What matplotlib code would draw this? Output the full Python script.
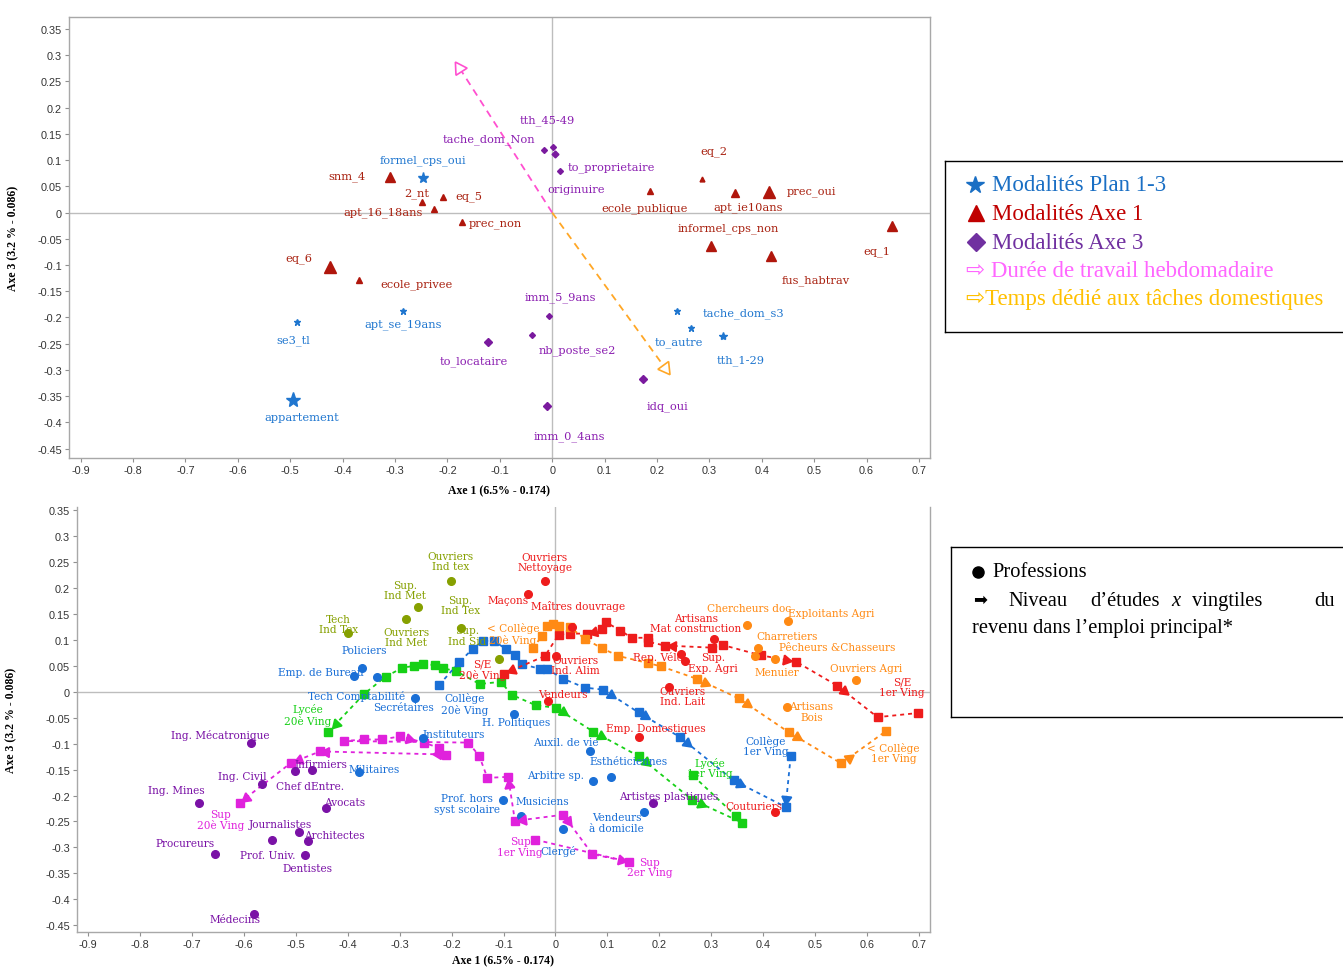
import numpy as np
import matplotlib
matplotlib.use("Agg")
import matplotlib.pyplot as plt
from matplotlib.ticker import FixedLocator, FuncFormatter

# ================= TOP PLANE : modalities =================
plan13_names = ["formel_cps_oui", "se3_tl", "apt_se_19ans", "appartement",
                "tache_dom_s3", "to_autre", "tth_1-29"]
plan13_x = [-0.246, -0.487, -0.285, -0.494, 0.238, 0.265, 0.326]
plan13_y = [0.066, -0.208, -0.187, -0.357, -0.187, -0.221, -0.235]
plan13_lx = [-0.246, -0.494, -0.284, -0.477, 0.365, 0.242, 0.359]
plan13_ly = [0.101, -0.243, -0.211, -0.390, -0.190, -0.247, -0.281]

axe1_names = ["snm_4", "2_nt", "eq_5", "apt_16_18ans", "prec_non", "eq_6",
              "ecole_privee", "eq_2", "ecole_publique", "apt_ie10ans",
              "prec_oui", "informel_cps_non", "eq_1", "fus_habtrav"]
axe1_x = [-0.309, -0.249, -0.209, -0.226, -0.172, -0.424, -0.369, 0.286,
          0.187, 0.349, 0.413, 0.304, 0.649, 0.417]
axe1_y = [0.068, 0.020, 0.030, 0.006, -0.017, -0.104, -0.128, 0.064,
          0.042, 0.038, 0.039, -0.064, -0.025, -0.083]
axe1_lx = [-0.391, -0.258, -0.158, -0.323, -0.108, -0.483, -0.258, 0.309,
           0.177, 0.374, 0.494, 0.336, 0.620, 0.502]
axe1_ly = [0.070, 0.038, 0.032, 0.001, -0.020, -0.085, -0.136, 0.118,
           0.009, 0.011, 0.041, -0.029, -0.073, -0.127]

axe3_names = ["tth_45-49", "tache_dom_Non", "to_proprietaire", "originuire",
              "imm_5_9ans", "nb_poste_se2", "to_locataire", "idq_oui",
              "imm_0_4ans"]
axe3_x = [0.001, -0.015, 0.014, 0.005, -0.006, -0.039, -0.122, 0.174, -0.009]
axe3_y = [0.125, 0.120, 0.080, 0.112, -0.198, -0.233, -0.246, -0.317, -0.369]
axe3_lx = [-0.010, -0.120, 0.113, 0.046, 0.015, 0.048, -0.149, 0.221, 0.032]
axe3_ly = [0.177, 0.141, 0.087, 0.045, -0.161, -0.262, -0.283, -0.369, -0.426]

# supplementary directions drawn from the origin
duree_end = (-0.177, 0.276)
domest_end = (0.216, -0.297)

# ================= BOTTOM PLANE : professions =================
prof_olive = ["Ouvriers\nInd tex", "Sup.\nInd Met", "Ouvriers\nInd Met",
              "Tech\nInd Tex", "Sup.\nInd Tex", "Sup.\nInd Sid"]
prof_olive_x = [-0.202, -0.265, -0.287, -0.399, -0.182, -0.108]
prof_olive_y = [0.213, 0.164, 0.140, 0.113, 0.122, 0.063]
prof_olive_lx = [-0.202, -0.289, -0.287, -0.418, -0.183, -0.170]
prof_olive_ly = [0.252, 0.196, 0.106, 0.131, 0.167, 0.108]

prof_red = ["Ouvriers\nNettoyage", "Maçons", "Maîtres douvrage",
            "Ouvriers\nInd. Alim", "Vendeurs", "Artisans\nMat construction",
            "Rep. Vélo", "Sup.\nExp. Agri", "Ouvriers\nInd. Lait",
            "Emp. Domestiques", "Couturiers"]
prof_red_x = [-0.021, -0.052, 0.031, 0.001, -0.015, 0.306, 0.241, 0.250,
              0.218, 0.161, 0.423]
prof_red_y = [0.213, 0.188, 0.124, 0.069, -0.017, 0.101, 0.073, 0.060,
              0.009, -0.088, -0.231]
prof_red_lx = [-0.021, -0.092, 0.044, 0.039, 0.015, 0.270, 0.198, 0.304,
               0.245, 0.193, 0.382]
prof_red_ly = [0.250, 0.177, 0.167, 0.052, -0.004, 0.133, 0.067, 0.056,
               -0.008, -0.069, -0.221]

prof_orange = ["Chercheurs doc", "Exploitants Agri", "Charretiers",
               "Pêcheurs &Chasseurs", "Menuier", "Ouvriers Agri",
               "Artisans\nBois"]
prof_orange_x = [0.369, 0.447, 0.389, 0.423, 0.385, 0.579, 0.446]
prof_orange_y = [0.129, 0.136, 0.084, 0.063, 0.069, 0.022, -0.029]
prof_orange_lx = [0.372, 0.530, 0.445, 0.543, 0.426, 0.599, 0.493]
prof_orange_ly = [0.162, 0.152, 0.108, 0.087, 0.038, 0.046, -0.038]

prof_blue = ["Policiers", "Emp. de Bureau", "Tech Comptabilité", "Secrétaires",
             "H. Politiques", "Instituteurs", "Militaires", "Auxil. de vie",
             "Esthéticiennes", "Arbitre sp.", "Prof. hors\nsyst scolaire",
             "Musiciens", "Vendeurs\nà domicile", "Clergé"]
prof_blue_x = [-0.373, -0.387, -0.344, -0.270, -0.079, -0.254, -0.378, 0.067,
               0.107, 0.073, -0.101, -0.066, 0.170, 0.015]
prof_blue_y = [0.046, 0.031, 0.029, -0.012, -0.042, -0.089, -0.154, -0.114,
               -0.164, -0.172, -0.208, -0.239, -0.231, -0.265]
prof_blue_lx = [-0.368, -0.451, -0.382, -0.293, -0.075, -0.195, -0.349, 0.019,
                0.141, 0.000, -0.171, -0.025, 0.118, 0.006]
prof_blue_ly = [0.081, 0.038, -0.008, -0.029, -0.058, -0.081, -0.148, -0.096,
                -0.133, -0.160, -0.215, -0.210, -0.252, -0.306]

prof_purple = ["Ing. Mécatronique", "Ing. Civil", "Infirmiers", "Chef dEntre.",
               "Ing. Mines", "Avocats", "Journalistes", "Architectes",
               "Procureurs", "Prof. Univ.", "Dentistes", "Médecins",
               "Artistes plastiques"]
prof_purple_x = [-0.586, -0.565, -0.502, -0.469, -0.687, -0.442, -0.493,
                 -0.476, -0.656, -0.545, -0.482, -0.580, 0.187]
prof_purple_y = [-0.098, -0.178, -0.153, -0.150, -0.215, -0.224, -0.271,
                 -0.288, -0.312, -0.286, -0.315, -0.429, -0.214]
prof_purple_lx = [-0.645, -0.603, -0.451, -0.472, -0.730, -0.405, -0.530,
                  -0.426, -0.713, -0.553, -0.478, -0.617, 0.218]
prof_purple_ly = [-0.083, -0.163, -0.140, -0.181, -0.190, -0.213, -0.254,
                  -0.277, -0.292, -0.315, -0.340, -0.438, -0.200]

# education level x income vingtile paths (20e -> 1er)
lycee_x = [-0.437, -0.368, -0.327, -0.295, -0.272, -0.254, -0.232, -0.216,
           -0.192, -0.146, -0.105, -0.084, -0.038, 0.001, 0.073, 0.160,
           0.263, 0.359, 0.347, 0.264]
lycee_y = [-0.077, -0.004, 0.029, 0.046, 0.050, 0.054, 0.051, 0.045, 0.040,
           0.015, 0.019, -0.006, -0.026, -0.031, -0.077, -0.124, -0.208,
           -0.252, -0.239, -0.161]
lycee_arrows = [(1, 0, 0.79), (13, 14, 0.18), (14, 15, 0.16), (15, 16, 0.13),
                (16, 17, 0.17)]

college_x = [-0.224, -0.185, -0.159, -0.139, -0.119, -0.096, -0.078, -0.064,
             -0.029, -0.017, 0.015, 0.056, 0.092, 0.160, 0.239, 0.343, 0.443,
             0.453]
college_y = [0.013, 0.057, 0.083, 0.098, 0.098, 0.083, 0.070, 0.053, 0.044,
             0.044, 0.025, 0.008, 0.004, -0.040, -0.087, -0.171, -0.222,
             -0.123]
college_arrows = [(12, 13, 0.22), (13, 14, 0.16), (14, 15, 0.13),
                  (15, 16, 0.13), (17, 16, 0.84)]

se_x = [-0.099, -0.020, 0.006, 0.028, 0.060, 0.089, 0.097, 0.125, 0.147,
        0.179, 0.179, 0.211, 0.301, 0.322, 0.396, 0.463, 0.542, 0.620, 0.698]
se_y = [0.035, 0.069, 0.110, 0.112, 0.112, 0.120, 0.134, 0.118, 0.104, 0.104,
        0.096, 0.089, 0.085, 0.090, 0.070, 0.058, 0.012, -0.049, -0.041]
se_arrows = [(1, 0, 0.8), (5, 4, 0.49), (12, 11, 0.82), (14, 15, 0.71),
             (16, 17, 0.17)]

infcol_x = [-0.044, -0.026, -0.017, -0.004, 0.006, 0.028, 0.057, 0.089, 0.121,
            0.179, 0.203, 0.272, 0.353, 0.449, 0.550, 0.636]
infcol_y = [0.084, 0.107, 0.126, 0.131, 0.126, 0.124, 0.102, 0.084, 0.069,
            0.055, 0.049, 0.025, -0.013, -0.078, -0.138, -0.076]
infcol_arrows = [(11, 12, 0.2), (12, 13, 0.17), (13, 14, 0.16), (14, 15, 0.17)]

sup_x = [-0.608, -0.509, -0.453, -0.211, -0.225, -0.253, -0.299, -0.334,
         -0.369, -0.407, -0.168, -0.147, -0.131, -0.091, -0.078, 0.015, 0.071,
         0.142, -0.039]
sup_y = [-0.214, -0.137, -0.115, -0.121, -0.108, -0.098, -0.086, -0.092,
         -0.092, -0.095, -0.098, -0.123, -0.166, -0.164, -0.249, -0.237,
         -0.313, -0.328, -0.285]
sup_arrows = [(1, 0, 0.87), (2, 1, 0.71), (3, 2, 0.95), (3, 2, 0.06),
              (6, 5, 0.37), (14, 13, 0.81), (15, 14, 0.83), (15, 16, 0.17),
              (16, 17, 0.78)]

path_labels = [("Lycée\n20è Ving", -0.476, -0.044, "green"),
               ("Lycée\n1er Ving", 0.297, -0.146, "green"),
               ("Collège\n20è Ving", -0.175, -0.023, "blue"),
               ("Collège\n1er Ving", 0.405, -0.104, "blue"),
               ("S/E\n20è Ving", -0.141, 0.044, "red"),
               ("S/E\n1er Ving", 0.667, 0.010, "red"),
               ("< Collège\n20è Ving", -0.082, 0.112, "orange"),
               ("< Collège\n1er Ving", 0.651, -0.117, "orange"),
               ("Sup\n20è Ving", -0.644, -0.246, "magenta"),
               ("Sup\n1er Ving", -0.068, -0.298, "magenta"),
               ("Sup\n2er Ving", 0.181, -0.338, "magenta")]

# ================= STYLE =================
C = {"blue": "#1a6fd6", "red": "#ee1c1c", "orange": "#ff8a14",
     "olive": "#86a000", "purple": "#7a12a6", "green": "#16d016",
     "magenta": "#e022dc"}
TOP_BLUE = "#1f76cf"
TOP_RED = "#a8200f"
TOP_PURPLE = "#8a1db0"
LBL_FONT = "DejaVu Serif"
W, H = 1343, 970

fig = plt.figure(figsize=(W / 100, H / 100), dpi=100)


def px_axes(l, t, r, b):
    return fig.add_axes([l / W, 1 - b / H, (r - l) / W, (b - t) / H])


def tick_fmt(v, pos):
    return "0" if abs(v) < 1e-9 else f"{round(v, 2):g}"


def style_axes(ax, xlim, ylim, ylab_x, xlab_y):
    ax.set_xlim(*xlim)
    ax.set_ylim(*ylim)
    for s in ax.spines.values():
        s.set_color("#a8a8a8")
        s.set_linewidth(1.0)
    ax.axhline(0, color="#bdbdbd", lw=1.0, zorder=0)
    ax.axvline(0, color="#bdbdbd", lw=1.0, zorder=0)
    ax.xaxis.set_major_locator(FixedLocator(np.round(np.arange(-0.9, 0.71, 0.1), 2)))
    ax.yaxis.set_major_locator(FixedLocator(np.round(np.arange(-0.45, 0.351, 0.05), 2)))
    ax.xaxis.set_major_formatter(FuncFormatter(tick_fmt))
    ax.yaxis.set_major_formatter(FuncFormatter(tick_fmt))
    ax.tick_params(direction="out", length=3, width=0.8, color="#909090",
                   labelsize=7.8, labelcolor="#333333", pad=2)
    for lab in ax.get_xticklabels() + ax.get_yticklabels():
        lab.set_fontfamily("Liberation Sans")
    ax.set_xlabel("Axe 1 (6.5% - 0.174)", fontsize=8.5, fontweight="bold",
                  family="Liberation Serif")
    ax.set_ylabel("Axe 3 (3.2 % - 0.086)", fontsize=8.5, fontweight="bold",
                  family="Liberation Serif")
    ax.yaxis.set_label_coords(ylab_x, 0.5)
    ax.xaxis.set_label_coords(0.5, xlab_y)


def head(ax, p0, p1, color, ms, filled=True, lw=1.2):
    a = ax.transData.transform(p0)
    b = ax.transData.transform(p1)
    ang = np.degrees(np.arctan2(b[1] - a[1], b[0] - a[0]))
    ax.plot(p1[0], p1[1], marker=(3, 0, ang - 90), ms=ms, ls="none",
            mfc=color if filled else "white", mec=color, mew=lw, zorder=5)


def labels(ax, names, lx, ly, color, size):
    for n, x, y in zip(names, lx, ly):
        ax.text(x, y, n, color=color, fontsize=size, family=LBL_FONT,
                ha="center", va="center", linespacing=1.05, zorder=6)


# ---------- top plot ----------
ax1 = px_axes(69, 18, 930, 459)
style_axes(ax1, (-0.922, 0.721), (-0.468, 0.373), -0.058, -0.060)

ax1.plot([0, duree_end[0]], [0, duree_end[1]], ls=(0, (4, 3)), color="#ff4fd0", lw=1.3)
ax1.plot([0, domest_end[0]], [0, domest_end[1]], ls=(0, (4, 3)), color="#ffa726", lw=1.3)
head(ax1, (0, 0), duree_end, "#ff4fd0", 11, filled=False)
head(ax1, (0, 0), domest_end, "#ffa726", 11, filled=False)

plan13_ms = [8, 5, 5, 11, 5, 5, 6]
for x, y, m in zip(plan13_x, plan13_y, plan13_ms):
    ax1.plot(x, y, marker="*", ms=m, color=TOP_BLUE, ls="none")
labels(ax1, plan13_names, plan13_lx, plan13_ly, TOP_BLUE, 8.2)

axe1_ms = [6.5, 4, 4, 4, 5, 8, 5, 3.5, 4, 6, 9, 7, 7, 7]
for x, y, m in zip(axe1_x, axe1_y, axe1_ms):
    ax1.plot(x, y, marker="^", ms=m, color="#b0160c", ls="none")
labels(ax1, axe1_names, axe1_lx, axe1_ly, TOP_RED, 8.2)

axe3_ms = [3, 3, 3, 3.5, 3, 3, 4.5, 4.5, 4]
for x, y, m in zip(axe3_x, axe3_y, axe3_ms):
    ax1.plot(x, y, marker="D", ms=m, color="#7a1a9e", ls="none")
labels(ax1, axe3_names, axe3_lx, axe3_ly, TOP_PURPLE, 8.2)

# ---------- bottom plot ----------
ax2 = px_axes(77, 508, 930, 933)
style_axes(ax2, (-0.921, 0.721), (-0.463, 0.356), -0.070, -0.052)
ax2.spines["top"].set_visible(False)

paths = [(lycee_x, lycee_y, lycee_arrows, "green"),
         (college_x, college_y, college_arrows, "blue"),
         (se_x, se_y, se_arrows, "red"),
         (infcol_x, infcol_y, infcol_arrows, "orange"),
         (sup_x, sup_y, sup_arrows, "magenta")]
for xs, ys, arrows, key in paths:
    ax2.plot(xs, ys, ls=(0, (2.2, 2.2)), lw=1.3, color=C[key], marker="s",
             ms=5.5, zorder=3)
    for i, j, t in arrows:
        p0 = (xs[i], ys[i])
        pt = (xs[i] + t * (xs[j] - xs[i]), ys[i] + t * (ys[j] - ys[i]))
        head(ax2, p0, pt, C[key], 8)

for key, xs, ys, names, lx, ly in [
        ("olive", prof_olive_x, prof_olive_y, prof_olive, prof_olive_lx, prof_olive_ly),
        ("red", prof_red_x, prof_red_y, prof_red, prof_red_lx, prof_red_ly),
        ("orange", prof_orange_x, prof_orange_y, prof_orange, prof_orange_lx, prof_orange_ly),
        ("blue", prof_blue_x, prof_blue_y, prof_blue, prof_blue_lx, prof_blue_ly),
        ("purple", prof_purple_x, prof_purple_y, prof_purple, prof_purple_lx, prof_purple_ly)]:
    ax2.plot(xs, ys, marker="o", ms=5.5, ls="none", color=C[key], zorder=4)
    labels(ax2, names, lx, ly, C[key], 7.6)

for text, x, y, key in path_labels:
    ax2.text(x, y, text, color=C[key], fontsize=7.6, family=LBL_FONT,
             ha="center", va="center", linespacing=1.05, zorder=6)

# ---------- legend boxes ----------
SERIF = ["Liberation Serif", "DejaVu Sans"]
LEG = 16.5
LEG2 = 14.8
lg1 = px_axes(945, 162, 1350, 333)
lg2 = px_axes(951, 548, 1350, 718)
for lg in (lg1, lg2):
    lg.set_xlim(0, 1)
    lg.set_ylim(0, 1)
    lg.set_xticks([])
    lg.set_yticks([])
    for s in lg.spines.values():
        s.set_color("black")
        s.set_linewidth(1.0)

lg1.plot(0.074, 0.86, marker="*", ms=13, color="#1a6fc4")
lg1.plot(0.077, 0.695, marker="^", ms=11, color="#c00000")
lg1.plot(0.077, 0.525, marker="D", ms=9, color="#7030a0")
lg1.text(0.115, 0.86, "Modalités Plan 1-3", color="#1a6fc4", fontsize=LEG,
         family=SERIF, va="center")
lg1.text(0.115, 0.695, "Modalités Axe 1", color="#c00000", fontsize=LEG,
         family=SERIF, va="center")
lg1.text(0.115, 0.525, "Modalités Axe 3", color="#7030a0", fontsize=LEG,
         family=SERIF, va="center")
lg1.text(0.052, 0.357, "⇨ Durée de travail hebdomadaire", color="#ff66ff",
         fontsize=LEG, family=SERIF, va="center")
lg1.text(0.052, 0.193, "⇨Temps dédié aux tâches domestiques", color="#ffc000",
         fontsize=LEG, family=SERIF, va="center")

lg2.plot(0.068, 0.853, marker="o", ms=8, color="black")
lg2.text(0.105, 0.853, "Professions", fontsize=LEG2, family=SERIF, va="center")
lg2.text(0.055, 0.688, "➡", fontsize=12, family=SERIF, va="center")
for word, x in [("Niveau", 0.145), ("d’études", 0.349), ("vingtiles", 0.605),
                ("du", 0.910)]:
    lg2.text(x, 0.688, word, fontsize=LEG2, family=SERIF, va="center")
lg2.text(0.551, 0.688, "x", fontsize=LEG2, family=SERIF, style="italic", va="center")
lg2.text(0.052, 0.525, "revenu dans l’emploi principal*", fontsize=LEG2,
         family=SERIF, va="center")

fig.savefig("out.png", dpi=100)
